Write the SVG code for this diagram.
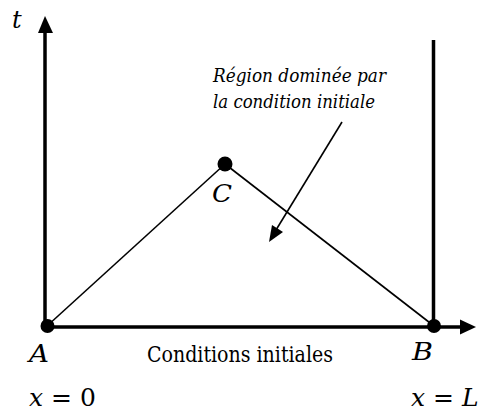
<svg xmlns="http://www.w3.org/2000/svg" width="480" height="415" viewBox="0 0 480 415">
<style>
.ax{stroke:#000;stroke-width:3.5;fill:none}
.ln{stroke:#000;stroke-width:1.6;fill:none}
text{font-family:'DejaVu Serif',serif;fill:#000}
.it{font-style:italic}
</style>
<rect width="480" height="415" fill="#fff"/>
<g id="connectors">
<line class="ax" x1="45" y1="327" x2="45" y2="30"/>
<polygon points="45,16 38,33 53,33" fill="#000"/>
<line class="ax" x1="47" y1="327" x2="462" y2="327"/>
<polygon points="476,327 460,319.5 460,334.5" fill="#000"/>
<line class="ax" x1="433.5" y1="40" x2="433.5" y2="327"/>
<line class="ln" x1="47" y1="326" x2="225" y2="164"/>
<line class="ln" x1="225" y1="164" x2="434" y2="326"/>
<line class="ln" x1="342" y1="122" x2="276" y2="230"/>
<polygon points="269,242 272,225 283,232" fill="#000"/>
</g>
<g id="A"><circle cx="47.5" cy="326" r="7"/><text class="it" x="29" y="362" font-size="25" textLength="20" lengthAdjust="spacingAndGlyphs">A</text></g>
<g id="B"><circle cx="434" cy="326" r="7"/><text class="it" x="412" y="360" font-size="25" textLength="21" lengthAdjust="spacingAndGlyphs">B</text></g>
<g id="C"><circle cx="225" cy="164" r="7.5"/><text class="it" x="212" y="202" font-size="25" textLength="20" lengthAdjust="spacingAndGlyphs">C</text></g>
<g id="labels">
<text class="it" x="12" y="28" font-size="24">t</text>
<text class="it" x="213" y="82" font-size="19" textLength="173" lengthAdjust="spacingAndGlyphs">Région dominée par</text>
<text class="it" x="213" y="108" font-size="19" textLength="162" lengthAdjust="spacingAndGlyphs">la condition initiale</text>
<text x="147" y="362" font-size="22" textLength="186" lengthAdjust="spacingAndGlyphs">Conditions initiales</text>
<text x="29" y="406" font-size="25"><tspan font-style="italic">x</tspan> = 0</text>
<text x="411" y="406" font-size="25"><tspan font-style="italic">x</tspan> = <tspan font-style="italic">L</tspan></text>
</g>
</svg>
